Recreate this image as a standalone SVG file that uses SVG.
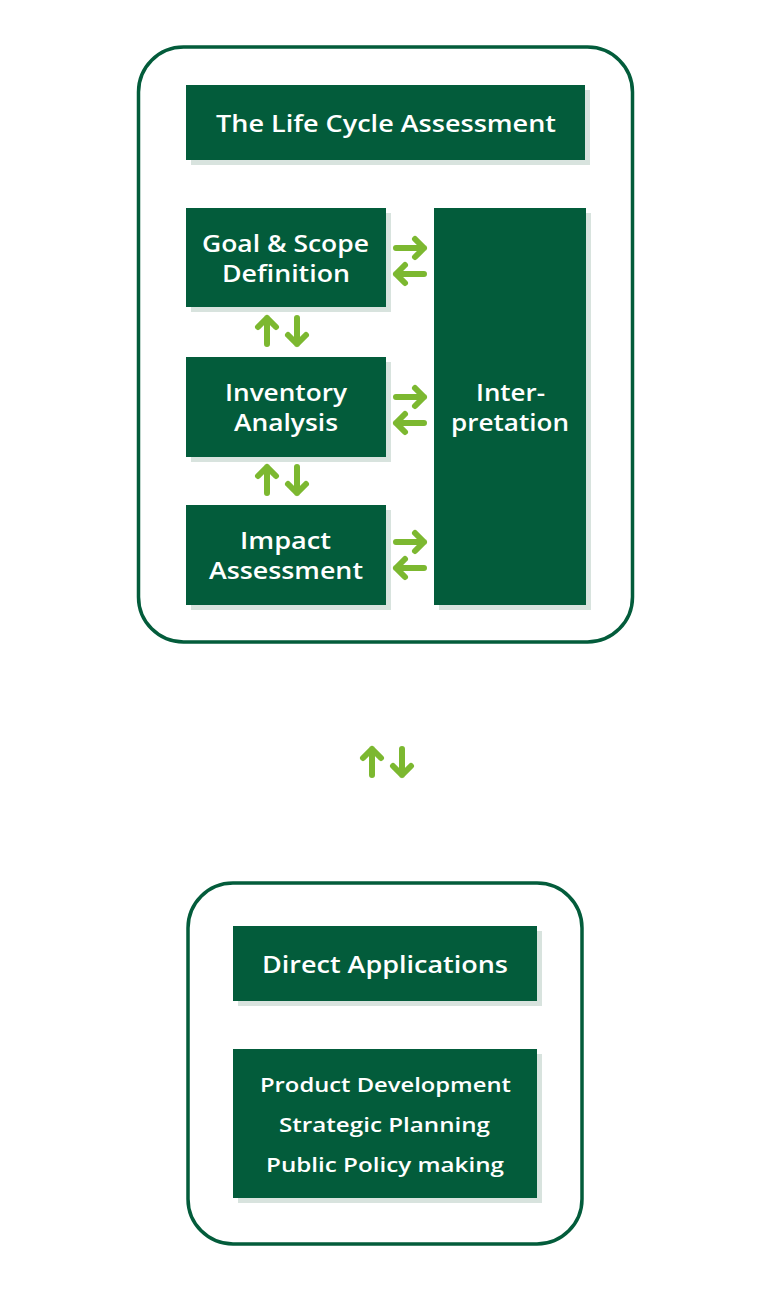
<svg xmlns="http://www.w3.org/2000/svg" width="772" height="1294" viewBox="0 0 772 1294">
<style>
.frame{fill:#fff;stroke:#035c3b;stroke-width:3.5}
.box{fill:#035c3b}
.sh{fill:#d8e3de}
.t{font-family:"Open Sans","Noto Sans",sans-serif;font-weight:600;fill:#fff;text-anchor:middle;dominant-baseline:central}
.big{font-size:23px}
.sm{font-size:20px}
.ar{fill:none;stroke:#7cb830;stroke-width:6;stroke-linecap:round;stroke-linejoin:round}
</style>
<rect width="772" height="1294" fill="#fff"/>
<g id="lca-frame"><rect class="frame" x="138.5" y="47" width="494" height="595" rx="45"/></g>
<g id="lca-title"><rect class="sh" x="191" y="90" width="399" height="75"/><rect class="box" x="186" y="85" width="399" height="75"/><text class="t big" x="386" y="123" textLength="340" lengthAdjust="spacingAndGlyphs">The Life Cycle Assessment</text></g>
<g id="goal"><rect class="sh" x="191" y="213" width="200" height="99"/><rect class="box" x="186" y="208" width="200" height="99"/><text class="t big" x="285.5" y="243" textLength="167" lengthAdjust="spacingAndGlyphs">Goal &amp; Scope</text><text class="t big" x="286" y="273" textLength="128" lengthAdjust="spacingAndGlyphs">Definition</text></g>
<g id="inventory"><rect class="sh" x="191" y="362" width="200" height="100"/><rect class="box" x="186" y="357" width="200" height="100"/><text class="t big" x="286" y="392" textLength="122" lengthAdjust="spacingAndGlyphs">Inventory</text><text class="t big" x="286" y="422" textLength="104" lengthAdjust="spacingAndGlyphs">Analysis</text></g>
<g id="impact"><rect class="sh" x="191" y="510" width="200" height="100"/><rect class="box" x="186" y="505" width="200" height="100"/><text class="t big" x="285.5" y="540" textLength="91" lengthAdjust="spacingAndGlyphs">Impact</text><text class="t big" x="286" y="570" textLength="154" lengthAdjust="spacingAndGlyphs">Assessment</text></g>
<g id="interpretation"><rect class="sh" x="439" y="213" width="152" height="397"/><rect class="box" x="434" y="208" width="152" height="397"/><text class="t big" x="510.5" y="392" textLength="69" lengthAdjust="spacingAndGlyphs">Inter-</text><text class="t big" x="510" y="422" textLength="118" lengthAdjust="spacingAndGlyphs">pretation</text></g>
<g id="apps-frame"><rect class="frame" x="188" y="883" width="394" height="361" rx="45"/></g>
<g id="direct"><rect class="sh" x="238" y="931" width="304" height="75"/><rect class="box" x="233" y="926" width="304" height="75"/><text class="t big" x="385" y="964" textLength="246" lengthAdjust="spacingAndGlyphs">Direct Applications</text></g>
<g id="list"><rect class="sh" x="238" y="1054" width="304" height="149"/><rect class="box" x="233" y="1049" width="304" height="149"/><text class="t sm" x="385.5" y="1084" textLength="251" lengthAdjust="spacingAndGlyphs">Product Development</text><text class="t sm" x="384.5" y="1124" textLength="211" lengthAdjust="spacingAndGlyphs">Strategic Planning</text><text class="t sm" x="385" y="1164" textLength="238" lengthAdjust="spacingAndGlyphs">Public Policy making</text></g>
<g id="connectors">
<defs>
<g id="pair-h"><path class="ar" d="M0 0H28M19 -9L28 0L19 9"/><path class="ar" d="M28 26H0M9 17L0 26L9 35"/></g>
<g id="pair-v"><path class="ar" d="M0 26V0M-9 9L0 0L9 9"/><path class="ar" d="M30 0V26M21 17L30 26L39 17"/></g>
</defs>
<use href="#pair-h" x="396" y="248"/>
<use href="#pair-h" x="396" y="397"/>
<use href="#pair-h" x="396" y="542"/>
<use href="#pair-v" x="267" y="318"/>
<use href="#pair-v" x="267" y="467"/>
<use href="#pair-v" x="372" y="749"/>
</g>
</svg>
